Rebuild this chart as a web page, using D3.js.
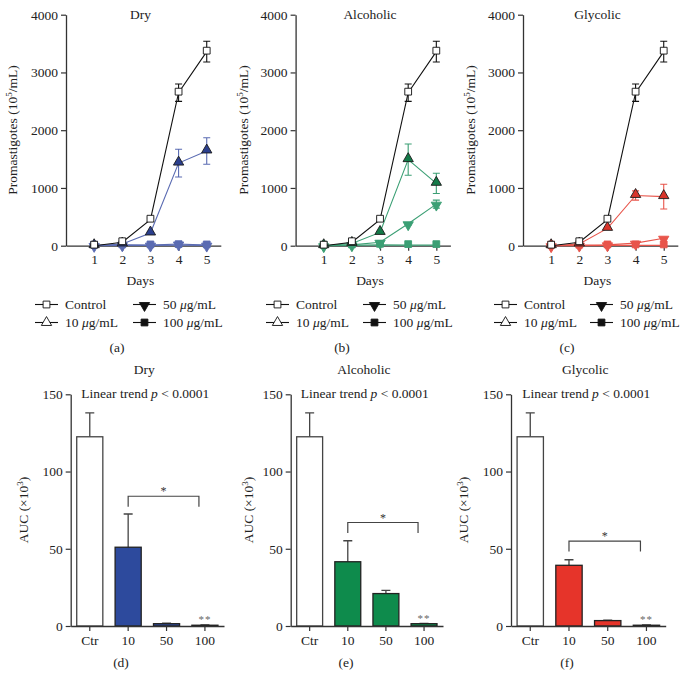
<!DOCTYPE html>
<html><head><meta charset="utf-8">
<script src="https://cdn.jsdelivr.net/npm/d3@7"></script>
<style>
html,body{margin:0;padding:0;background:#fff;}
svg{display:block;font-family:"Liberation Serif","Times New Roman",serif;}
</style></head>
<body><svg id="c" width="686" height="689"></svg>
<script>
// ---------- data ----------
const days = [1, 2, 3, 4, 5];
const panelNames = ["Dry", "Alcoholic", "Glycolic"];
const topTicks = [0, 1000, 2000, 3000, 4000];
const ctrlMean = [0, 60, 450, 2650, 3360];
const ctrlErr  = [0, 20, 30, 150, 180];
const dry10 = [0, 30, 220, 1430, 1640];   const dry10Err = [0, 10, 20, 240, 230];
const dry50 = [5, 15, 10, 30, 10];        const dry50Err = [0, 5, 5, 30, 10];
const dry100 = [0, 5, 5, 10, 5];          const dry100Err = [0, 0, 0, 5, 0];
const alc10 = [0, 40, 230, 1490, 1080];   const alc10Err = [0, 10, 20, 270, 175];
const alc50 = [0, 15, 60, 380, 720];      const alc50Err = [0, 5, 10, 20, 70];
const alc100 = [0, 5, 15, 10, 10];        const alc100Err = [0, 0, 5, 0, 0];
const gly10 = [0, 30, 300, 870, 850];     const gly10Err = [0, 10, 20, 80, 215];
const gly50 = [0, 10, 15, 45, 130];       const gly50Err = [0, 5, 5, 10, 15];
const gly100 = [0, 0, 5, 5, 5];           const gly100Err = [0, 0, 0, 0, 0];

const aucCats = ["Ctr", "10", "50", "100"];
const aucTicks = [0, 50, 100, 150];
const aucDry = [122.5, 51, 1.5, 0.5];     const aucDryErr = [15.5, 21.5, 0.3, 0.2];
const aucAlc = [122.5, 41.6, 21, 1.5];    const aucAlcErr = [15.5, 13.6, 2, 0.2];
const aucGly = [122.5, 39.3, 3.5, 0.5];   const aucGlyErr = [15.5, 3.6, 0.3, 0.2];
const bracketY = [84, 67, 55];
const captions = ["(a)", "(b)", "(c)", "(d)", "(e)", "(f)"];

// ---------- style ----------
const barColors  = ["#2d4a9d", "#0e8b4c", "#e6342a"];
const lineColors = ["#5a6bb2", "#3b9f74", "#e8554b"];
const markColors = ["#2b3f8e", "#137a48", "#d8342b"];
const axisCol = "#333";
const FS = "13.5px";

const svg = d3.select("#c");
const topX0 = [66, 295.6, 523];
const botX0 = [70.7, 290.7, 511];
const botX1 = [224, 443, 665.7];
const topYLab = [17, 247.7, 475];
const botYLab = [28, 253, 468];
const legX = [35, 266, 494];
const legX2 = [133, 363, 590];
const capTop = [117, 342, 567];
const capBot = [121, 346, 567];

const topSeries = [
  [[dry10, dry10Err], [dry50, dry50Err], [dry100, dry100Err]],
  [[alc10, alc10Err], [alc50, alc50Err], [alc100, alc100Err]],
  [[gly10, gly10Err], [gly50, gly50Err], [gly100, gly100Err]]
];
const aucSeries = [[aucDry, aucDryErr], [aucAlc, aucAlcErr], [aucGly, aucGlyErr]];

const symTri = d3.symbol().type(d3.symbolTriangle).size(46)();
const symSq = d3.symbol().type(d3.symbolSquare).size(46)();

function styleAxis(g) {
  g.selectAll("path.domain").attr("stroke", axisCol).attr("stroke-width", 1.3);
  g.selectAll(".tick line").attr("stroke", axisCol).attr("stroke-width", 1.2);
  g.selectAll(".tick text").attr("fill", "#222").style("font-size", FS)
    .style("font-family", "Liberation Serif, serif");
}

function muText(sel, num) {
  sel.append("tspan").text(num + " ");
  sel.append("tspan").attr("font-style", "italic").text("μ");
  sel.append("tspan").text("g/mL");
}

panelNames.forEach((name, p) => {
  // ---------- top line chart ----------
  const x = d3.scaleLinear().domain([0, 5.5]).range([topX0[p], topX0[p] + 154.8]);
  const y = d3.scaleLinear().domain([0, 4000]).range([245.7, 14.7]);
  const g = svg.append("g");
  const gy = g.append("g").attr("transform", `translate(${topX0[p]},0)`)
    .call(d3.axisLeft(y).tickValues(topTicks).tickFormat(d3.format("d")).tickSize(5).tickSizeOuter(0).tickPadding(3));
  styleAxis(gy);
  const gx = g.append("g").attr("transform", `translate(0,245.7)`)
    .call(d3.axisBottom(x).tickValues(days).tickFormat(d3.format("d")).tickSize(5).tickSizeOuter(0).tickPadding(4));
  styleAxis(gx);

  g.append("text").attr("x", x(2.75) - 3).attr("y", 19).attr("text-anchor", "middle")
    .style("font-size", FS).attr("fill", "#222").text(name);
  const yl = g.append("text").attr("transform", `translate(${topYLab[p]},130) rotate(-90)`)
    .attr("text-anchor", "middle").style("font-size", FS).attr("fill", "#222");
  yl.append("tspan").text("Promastigotes (10");
  yl.append("tspan").attr("dy", -5).style("font-size", "9px").text("5");
  yl.append("tspan").attr("dy", 5).text("/mL)");
  g.append("text").attr("x", x(2.75) - 3).attr("y", 285).attr("text-anchor", "middle")
    .style("font-size", FS).attr("fill", "#222").text("Days");

  const line = d3.line().x((d, i) => x(days[i])).y(d => y(d));
  function drawSeries(vals, errs, lc, fill, stroke, symPath, rot) {
    const s = g.append("g");
    s.append("path").attr("d", line(vals)).attr("fill", "none").attr("stroke", lc).attr("stroke-width", 1.1);
    vals.forEach((v, i) => {
      if (errs[i] > 0) {
        const cx = x(days[i]);
        s.append("path").attr("d", `M${cx},${y(v - errs[i])}V${y(v + errs[i])}M${cx - 3.5},${y(v + errs[i])}H${cx + 3.5}M${cx - 3.5},${y(v - errs[i])}H${cx + 3.5}`)
          .attr("stroke", lc).attr("stroke-width", 1.1).attr("fill", "none");
      }
    });
    s.selectAll("path.m").data(vals).enter().append("path").attr("class", "m")
      .attr("d", symPath)
      .attr("transform", (d, i) => `translate(${x(days[i])},${y(d) + (rot ? 1 : -1)}) rotate(${rot})`)
      .attr("fill", fill).attr("stroke", stroke).attr("stroke-width", 0.9);
  }
  const ts = topSeries[p];
  drawSeries(ts[2][0], ts[2][1], lineColors[p], lineColors[p], lineColors[p], symSq, 0);
  drawSeries(ts[1][0], ts[1][1], lineColors[p], lineColors[p], lineColors[p], symTri, 180);
  drawSeries(ts[0][0], ts[0][1], lineColors[p], markColors[p], "#1a1a1a", symTri, 0);
  drawSeries(ctrlMean, ctrlErr, "#111", "#fff", "#111", symSq, 0);

  // legend
  const lg = g.append("g");
  const legItems = [
    {x: legX[p], y: 304.5, sym: symSq, fill: "#fff", rot: 0, lab: "Control"},
    {x: legX2[p], y: 304.5, sym: symTri, fill: "#111", rot: 180, lab: "50"},
    {x: legX[p], y: 322.5, sym: symTri, fill: "#fff", rot: 0, lab: "10"},
    {x: legX2[p], y: 322.5, sym: symSq, fill: "#111", rot: 0, lab: "100"}
  ];
  legItems.forEach(it => {
    lg.append("line").attr("x1", it.x).attr("x2", it.x + 23).attr("y1", it.y).attr("y2", it.y)
      .attr("stroke", "#111").attr("stroke-width", 1.1);
    lg.append("path").attr("d", it.sym)
      .attr("transform", `translate(${it.x + 11.5},${it.y + (it.rot ? 1 : 0)}) rotate(${it.rot})`)
      .attr("fill", it.fill).attr("stroke", "#111").attr("stroke-width", 0.9);
    const t = lg.append("text").attr("x", it.x + 30).attr("y", it.y + 4.5)
      .style("font-size", FS).attr("fill", "#222");
    if (it.lab === "Control") t.text("Control"); else muText(t, it.lab);
  });
  g.append("text").attr("x", capTop[p]).attr("y", 352).attr("text-anchor", "middle")
    .style("font-size", FS).attr("fill", "#222").text(captions[p]);

  // ---------- bottom bar chart ----------
  const bx = d3.scaleBand().domain(aucCats).range([botX0[p], botX1[p]]).paddingInner(0.32).paddingOuter(0.157);
  const by = d3.scaleLinear().domain([0, 150]).range([626, 394.3]);
  const b = svg.append("g");
  const [vals, errs] = aucSeries[p];
  vals.forEach((v, i) => {
    const c = aucCats[i];
    const cx = bx(c) + bx.bandwidth() / 2;
    b.append("path").attr("d", `M${cx},${by(v)}V${by(v + errs[i])}M${cx - 4.5},${by(v + errs[i])}H${cx + 4.5}`)
      .attr("stroke", "#444").attr("stroke-width", 1.3).attr("fill", "none");
    b.append("rect").attr("x", bx(c)).attr("y", by(v)).attr("width", bx.bandwidth())
      .attr("height", Math.max(by(0) - by(v), 1))
      .attr("fill", i === 0 ? "#fff" : barColors[p])
      .attr("stroke", i === 0 ? "#444" : "#222").attr("stroke-width", 1.3);
  });
  const bgy = b.append("g").attr("transform", `translate(${botX0[p]},0)`)
    .call(d3.axisLeft(by).tickValues(aucTicks).tickSize(5).tickSizeOuter(0).tickPadding(3));
  styleAxis(bgy);
  const bgx = b.append("g").attr("transform", `translate(0,626)`)
    .call(d3.axisBottom(bx).tickSize(5).tickSizeOuter(0).tickPadding(4));
  styleAxis(bgx);

  const midX = (botX0[p] + botX1[p]) / 2;
  b.append("text").attr("x", midX - 3).attr("y", 374).attr("text-anchor", "middle")
    .style("font-size", FS).attr("fill", "#222").text(name);
  const lt = b.append("text").attr("x", midX - 2).attr("y", 398).attr("text-anchor", "middle")
    .style("font-size", FS).attr("fill", "#222");
  lt.append("tspan").text("Linear trend ");
  lt.append("tspan").attr("font-style", "italic").text("p");
  lt.append("tspan").text(" < 0.0001");
  const al = b.append("text").attr("transform", `translate(${botYLab[p]},510) rotate(-90)`)
    .attr("text-anchor", "middle").style("font-size", FS).attr("fill", "#222");
  al.append("tspan").text("AUC (×10");
  al.append("tspan").attr("dy", -5).style("font-size", "9px").text("3");
  al.append("tspan").attr("dy", 5).text(")");

  // significance bracket
  const lx = bx("10") + bx.bandwidth() / 2;
  const rx = bx("100") + bx.bandwidth() / 2 - 6;
  const ty = by(bracketY[p]);
  b.append("path").attr("d", `M${lx},${ty + 10.5}V${ty}H${rx}V${ty + 10.5}`)
    .attr("fill", "none").attr("stroke", "#444").attr("stroke-width", 1.2);
  b.append("text").attr("x", (lx + rx) / 2).attr("y", ty - 1).attr("text-anchor", "middle")
    .style("font-size", "12px").attr("fill", "#333").text("*");
  const c100 = bx("100") + bx.bandwidth() / 2;
  b.append("text").attr("x", c100).attr("y", by(vals[3]) - 2).attr("text-anchor", "middle")
    .style("font-size", "11px").attr("fill", "#666").attr("letter-spacing", "1px").text("**");
  b.append("text").attr("x", capBot[p]).attr("y", 667).attr("text-anchor", "middle")
    .style("font-size", FS).attr("fill", "#222").text(captions[p + 3]);
});
</script></body></html>
